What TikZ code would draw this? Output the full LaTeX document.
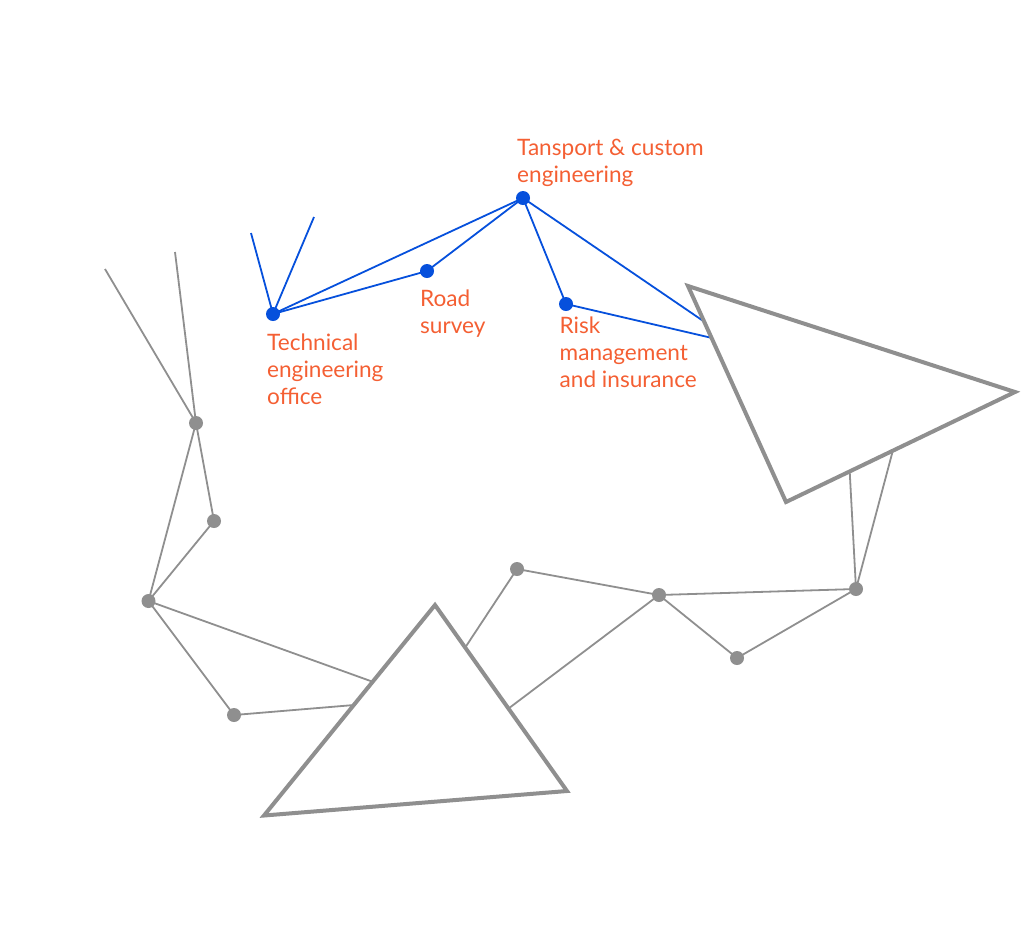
\documentclass[tikz,border=0pt]{standalone}
\usepackage{fontspec}
\setmainfont{Lato}
\definecolor{linkblue}{HTML}{0650DC}
\definecolor{linkgrey}{HTML}{8F8F8F}
\definecolor{labelred}{HTML}{F45F33}
\tikzset{
	x=1pt, y=-1pt,
	bluedot/.style={circle, fill=linkblue, inner sep=0pt, minimum size=14pt},
	greydot/.style={circle, fill=linkgrey, inner sep=0pt, minimum size=14pt},
	bluelink/.style={draw=linkblue, line width=1.8pt},
	greylink/.style={draw=linkgrey, line width=1.8pt},
	bigtri/.style={draw=linkgrey, line width=4pt, fill=white, line join=miter},
	tag/.style={text=labelred, font=\fontsize{22.6}{27}\selectfont, align=left, anchor=north west, inner sep=0pt},
}
\begin{document}
\begin{tikzpicture}
	\useasboundingbox (0,0) rectangle (1024,927);

	\node [bluedot] (tech) at (273,314) {};
	\node [bluedot] (road) at (427,271) {};
	\node [bluedot] (trans) at (523,198) {};
	\node [bluedot] (risk) at (566,304) {};
	\coordinate (b1) at (251,233);
	\coordinate (b2) at (314,217);
	\coordinate (b3) at (715,329);
	\coordinate (b4) at (725,341);

	\node [greydot] (g1) at (196,423) {};
	\node [greydot] (g2) at (214,521) {};
	\node [greydot] (g3) at (148.5,601) {};
	\node [greydot] (g4) at (234,715) {};
	\node [greydot] (g5) at (517,569) {};
	\node [greydot] (g6) at (659,595) {};
	\node [greydot] (g7) at (737,658) {};
	\node [greydot] (g8) at (856,589) {};
	\coordinate (f1) at (105,269);
	\coordinate (f2) at (175,252);
	\coordinate (t1) at (390,688);
	\coordinate (t2) at (390,702);
	\coordinate (t3) at (453,666);
	\coordinate (t4) at (480,730);
	\coordinate (t5) at (848,440);
	\coordinate (t6) at (897,435);

	% blue links
	\draw [bluelink] (tech.center) -- (b1);
	\draw [bluelink] (tech.center) -- (b2);
	\draw [bluelink] (tech.center) -- (trans.center);
	\draw [bluelink] (tech.center) -- (road.center);
	\draw [bluelink] (road.center) -- (trans.center);
	\draw [bluelink] (trans.center) -- (risk.center);
	\draw [bluelink] (trans.center) -- (b3);
	\draw [bluelink] (risk.center) -- (b4);

	% grey links
	\draw [greylink] (g1.center) -- (f1);
	\draw [greylink] (g1.center) -- (f2);
	\draw [greylink] (g1.center) -- (g2.center);
	\draw [greylink] (g1.center) -- (g3.center);
	\draw [greylink] (g2.center) -- (g3.center);
	\draw [greylink] (g3.center) -- (g4.center);
	\draw [greylink] (g3.center) -- (t1);
	\draw [greylink] (g4.center) -- (t2);
	\draw [greylink] (g5.center) -- (t3);
	\draw [greylink] (g5.center) -- (g6.center);
	\draw [greylink] (g6.center) -- (t4);
	\draw [greylink] (g6.center) -- (g7.center);
	\draw [greylink] (g6.center) -- (g8.center);
	\draw [greylink] (g7.center) -- (g8.center);
	\draw [greylink] (g8.center) -- (t5);
	\draw [greylink] (g8.center) -- (t6);

	% triangles on top
	\draw [bigtri] (688,286) -- (1015,392) -- (786,502) -- cycle;
	\draw [bigtri] (435,605) -- (567,791) -- (264,815.5) -- cycle;

	\node [tag] (techlabel) at (267,334) {Technical\\engineering\\office};
	\node [tag] (roadlabel) at (420,290) {Road\\survey};
	\node [tag] (risklabel) at (559.5,317) {Risk\\management\\and insurance};
	\node [tag] (translabel) at (517,139) {Tansport \& custom\\engineering};
\end{tikzpicture}
\end{document}
